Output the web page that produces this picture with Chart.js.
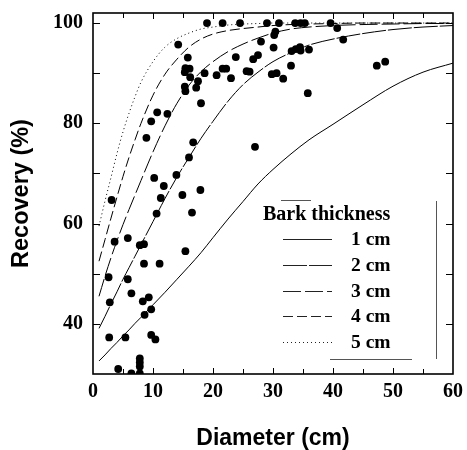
<!DOCTYPE html>
<html><head><meta charset="utf-8">
<script src="https://cdn.jsdelivr.net/npm/chart.js@4.4.1/dist/chart.umd.min.js"></script>
<style>html,body{margin:0;padding:0;background:#fff;}canvas{display:block;}</style>
</head><body>
<canvas id="c" width="467" height="450"></canvas>
<script>
// ---- observed data (diameter in cm, recovery in %) ----
const diameters = [
  19.0,14.2,15.8,15.4,16.1,15.3,16.2,18.6,15.3,15.4,17.5,17.2,18.0,10.7,9.7,12.4,
  21.6,24.5,29.0,31.0,33.7,34.6,35.3,39.6,40.7,41.7,47.3,48.7,
  20.6,21.6,22.2,23.0,23.8,25.6,26.1,26.7,27.5,28.0,30.2,30.4,30.1,29.8,30.6,31.7,33.0,33.1,33.8,34.5,34.6,36.0,35.8,27.0,
  8.9,16.7,16.0,13.9,10.2,11.8,17.9,11.3,14.9,3.1,10.6,16.5,
  3.6,5.8,7.8,8.5,15.4,8.5,11.1,2.6,5.8,6.4,2.8,8.3,9.3,9.7,8.6,2.7,5.4,9.7,10.4,7.8,7.8,7.8,4.2,6.4,7.8
];
const recoveries = [
  100,95.7,93.1,91.0,90.9,90.2,89.2,90.0,87.3,86.4,88.4,87.1,84.0,82.2,80.4,81.9,
  100,100,100,100,100,100,100,100,99.0,96.7,91.5,92.3,
  89.6,90.9,90.9,89.0,93.2,90.4,90.3,92.8,93.6,96.3,97.6,98.3,95.1,89.8,90.0,88.9,91.5,94.4,94.8,95.2,94.5,94.7,86.0,75.3,
  77.1,76.2,73.2,69.7,69.1,67.5,66.7,65.1,65.7,64.7,62.0,62.2,
  56.4,57.1,55.7,55.9,54.5,52.0,52.0,49.3,48.9,46.1,44.3,44.5,45.3,42.9,41.8,37.3,37.3,37.8,36.9,33.1,32.3,31.5,31.0,30.1,30.1
];

// ---- model curves ----
const curveDiam = [1,2,3,4,5,6,7,8,10,12,14,16,18,20,22.5,25,27.5,30,33,36,40,45,50,55,60];
const bark1cm = [32.6,33.8,35.1,36.3,37.6,38.8,40.1,41.3,43.8,46.3,48.9,51.5,54.2,57.2,60.9,64.4,67.9,70.8,73.9,76.7,79.8,83.7,87.4,90.2,92.0];
const bark2cm = [39.1,41.5,44.0,46.4,48.9,51.2,53.5,55.8,60.4,65.0,69.3,73.2,77.0,80.4,84.4,87.7,90.2,92.3,94.1,95.6,96.8,97.9,98.7,99.2,99.5];
const bark3cm = [45.5,49.5,53.2,56.6,59.8,62.8,65.7,68.6,74.3,79.5,84.0,87.6,90.3,92.3,94.3,95.8,97.0,98.0,98.8,99.2,99.5,99.7,99.8,99.9,99.9];
const bark4cm = [52.5,56.8,61.1,65.3,69.4,73.2,76.7,80.0,85.6,89.8,92.8,95.2,96.8,97.8,98.5,98.9,99.2,99.5,99.7,99.8,99.9,100,100,100,100];
const bark5cm = [59.5,64.5,69.2,74.0,78.3,82.0,85.3,88.2,92.3,95.2,96.9,98.0,98.8,99.2,99.6,99.8,99.9,100,100,100,100,100,100,100,100];

const curveLabels = ['1 cm','2 cm','3 cm','4 cm','5 cm'];
const curveSeries = [bark1cm, bark2cm, bark3cm, bark4cm, bark5cm];
const curveDashes = [[], [24,2], [18,4], [10,4], [1,3]];
const legendTitle = 'Bark thickness';

const xTickLabels = [0,10,20,30,40,50,60];
const xMinorTicks = [5,10,15,20,25,30,35,40,45,50,55];
const yTickLabels = [40,60,80,100];
const yMinorTicks = [40,50,60,70,80,90,100];

const xTitle = 'Diameter (cm)';
const yTitle = 'Recovery (%)';

const serif = '"Liberation Serif","Times New Roman",serif';
const sans = '"Liberation Sans",Arial,sans-serif';

const datasets = curveSeries.map((s, i) => ({
  type: 'scatter',
  label: curveLabels[i],
  data: curveDiam.map((d, j) => ({x: d, y: s[j]})),
  showLine: true,
  borderColor: '#000',
  borderWidth: 1,
  borderDash: curveDashes[i],
  pointRadius: 0,
  cubicInterpolationMode: 'monotone',
  fill: false,
  clip: 0,
  order: 2
}));
datasets.push({
  type: 'scatter',
  label: 'observed',
  data: diameters.map((d, i) => ({x: d, y: recoveries[i]})),
  pointRadius: 3.9,
  pointBackgroundColor: '#000',
  pointBorderWidth: 0,
  showLine: false,
  clip: 0,
  order: 1
});

const frameTicks = {
  id: 'frameTicks',
  afterDatasetsDraw(chart) {
    const {ctx, chartArea: a, scales: {x, y}} = chart;
    ctx.save();
    ctx.strokeStyle = '#000';
    ctx.lineWidth = 1;
    ctx.beginPath();
    xMinorTicks.forEach(v => {
      const px = Math.round(x.getPixelForValue(v)) + 0.5;
      const len = (v % 10 === 0) ? 6 : 5;
      ctx.moveTo(px, a.bottom); ctx.lineTo(px, a.bottom - len);
      ctx.moveTo(px, a.top); ctx.lineTo(px, a.top + len);
    });
    yMinorTicks.forEach(v => {
      const py = Math.round(y.getPixelForValue(v)) + 0.5;
      ctx.moveTo(a.left, py); ctx.lineTo(a.left + 7, py);
      ctx.moveTo(a.right, py); ctx.lineTo(a.right - 7, py);
    });
    ctx.stroke();
    ctx.lineWidth = 1.6;
    ctx.strokeRect(a.left, a.top, a.right - a.left, a.bottom - a.top);
    ctx.restore();
  }
};

const barkLegend = {
  id: 'barkLegend',
  afterDraw(chart) {
    const {ctx, chartArea: a} = chart;
    ctx.save();
    // faint partial frame
    ctx.strokeStyle = '#555';
    ctx.lineWidth = 1;
    ctx.beginPath();
    ctx.moveTo(a.left + 188, a.top + 187.5); ctx.lineTo(a.left + 218, a.top + 187.5);
    ctx.moveTo(a.left + 343.5, a.top + 188); ctx.lineTo(a.left + 343.5, a.top + 346);
    ctx.moveTo(a.left + 237, a.top + 346.5); ctx.lineTo(a.left + 319, a.top + 346.5);
    ctx.stroke();

    ctx.fillStyle = '#000';
    ctx.textBaseline = 'alphabetic';
    ctx.textAlign = 'left';
    ctx.font = 'bold 20px ' + serif;
    ctx.fillText(legendTitle, a.left + 170, a.top + 207);
    ctx.font = 'bold 19.5px ' + serif;
    curveLabels.forEach((lab, i) => {
      const base = a.top + 232 + i * 25.8;
      const ly = Math.round(base - 6) + 0.5;
      ctx.strokeStyle = '#222';
      ctx.lineWidth = 1;
      ctx.setLineDash(curveDashes[i]);
      ctx.beginPath();
      ctx.moveTo(a.left + 190, ly); ctx.lineTo(a.left + 239, ly);
      ctx.stroke();
      ctx.setLineDash([]);
      ctx.fillText(lab, a.left + 258, base);
    });
    ctx.restore();
  }
};

new Chart(document.getElementById('c'), {
  type: 'scatter',
  data: {datasets},
  options: {
    responsive: false,
    animation: false,
    devicePixelRatio: 1,
    layout: {padding: {left: 0, top: 13, right: 14, bottom: 0}},
    plugins: {legend: {display: false}, tooltip: {enabled: false}},
    scales: {
      x: {
        type: 'linear', position: 'bottom', min: 0, max: 60,
        afterBuildTicks: s => { s.ticks = xTickLabels.map(v => ({value: v})); },
        afterFit: s => { s.height = 76; s.paddingLeft = 0; s.paddingRight = 0; },
        grid: {display: false, drawTicks: false},
        border: {display: false},
        ticks: {color: '#000', padding: 8, font: {family: serif, size: 20, weight: 'bold', lineHeight: 1}, maxRotation: 0, autoSkip: false},
        title: {display: true, text: xTitle, color: '#000', font: {family: sans, size: 23, weight: 'bold', lineHeight: 1}, padding: {top: 0, bottom: 0}}
      },
      y: {
        type: 'linear', position: 'left', min: 30, max: 102,
        afterBuildTicks: s => { s.ticks = yTickLabels.map(v => ({value: v})); },
        afterFit: s => { s.width = 93; s.paddingTop = 0; s.paddingBottom = 0; },
        grid: {display: false, drawTicks: false},
        border: {display: false},
        ticks: {color: '#000', padding: 10, font: {family: serif, size: 20, weight: 'bold', lineHeight: 1}, autoSkip: false},
        title: {display: true, text: yTitle, color: '#000', font: {family: sans, size: 23.5, weight: 'bold', lineHeight: 1}, padding: {top: 10, bottom: 0}}
      }
    }
  },
  plugins: [frameTicks, barkLegend]
});
</script>
</body></html>
